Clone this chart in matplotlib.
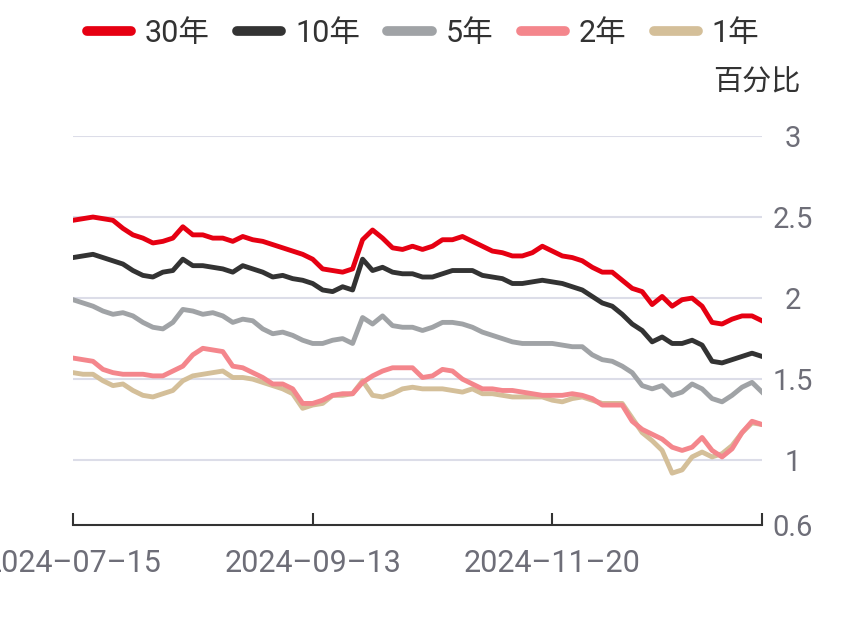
import matplotlib.pyplot as plt

plt.rcParams['font.family'] = ['Roboto', 'Noto Sans CJK SC', 'DejaVu Sans']

# readings roughly every 2 trading days, 2024-07-15 .. mid Jan 2025
tick_labels = ['2024–07–15', '2024–09–13', '2024–11–20']
tick_index = [0, 24, 48]

y30 = [2.48, 2.49, 2.50, 2.49, 2.48, 2.43, 2.39, 2.37, 2.34, 2.35,
       2.37, 2.44, 2.39, 2.39, 2.37, 2.37, 2.35, 2.38, 2.36, 2.35,
       2.33, 2.31, 2.29, 2.27, 2.24, 2.18, 2.17, 2.16, 2.18, 2.36,
       2.42, 2.37, 2.31, 2.30, 2.32, 2.30, 2.32, 2.36, 2.36, 2.38,
       2.35, 2.32, 2.29, 2.28, 2.26, 2.26, 2.28, 2.32, 2.29, 2.26,
       2.25, 2.23, 2.19, 2.16, 2.16, 2.11, 2.06, 2.04, 1.96, 2.01,
       1.95, 1.99, 2.00, 1.95, 1.85, 1.84, 1.87, 1.89, 1.89, 1.86]
y10 = [2.25, 2.26, 2.27, 2.25, 2.23, 2.21, 2.17, 2.14, 2.13, 2.16,
       2.17, 2.24, 2.20, 2.20, 2.19, 2.18, 2.16, 2.20, 2.18, 2.16,
       2.13, 2.14, 2.12, 2.11, 2.09, 2.05, 2.04, 2.07, 2.05, 2.24,
       2.17, 2.19, 2.16, 2.15, 2.15, 2.13, 2.13, 2.15, 2.17, 2.17,
       2.17, 2.14, 2.13, 2.12, 2.09, 2.09, 2.10, 2.11, 2.10, 2.09,
       2.07, 2.05, 2.01, 1.97, 1.95, 1.90, 1.84, 1.80, 1.73, 1.76,
       1.72, 1.72, 1.74, 1.71, 1.61, 1.60, 1.62, 1.64, 1.66, 1.64]
y5 = [1.99, 1.97, 1.95, 1.92, 1.90, 1.91, 1.89, 1.85, 1.82, 1.81,
      1.85, 1.93, 1.92, 1.90, 1.91, 1.89, 1.85, 1.87, 1.86, 1.81,
      1.78, 1.79, 1.77, 1.74, 1.72, 1.72, 1.74, 1.75, 1.72, 1.88,
      1.84, 1.89, 1.83, 1.82, 1.82, 1.80, 1.82, 1.85, 1.85, 1.84,
      1.82, 1.79, 1.77, 1.75, 1.73, 1.72, 1.72, 1.72, 1.72, 1.71,
      1.70, 1.70, 1.65, 1.62, 1.61, 1.58, 1.54, 1.46, 1.44, 1.46,
      1.40, 1.42, 1.47, 1.44, 1.38, 1.36, 1.40, 1.45, 1.48, 1.42]
y2 = [1.63, 1.62, 1.61, 1.56, 1.54, 1.53, 1.53, 1.53, 1.52, 1.52,
      1.55, 1.58, 1.65, 1.69, 1.68, 1.67, 1.58, 1.57, 1.54, 1.51,
      1.47, 1.47, 1.44, 1.35, 1.35, 1.37, 1.40, 1.41, 1.41, 1.48,
      1.52, 1.55, 1.57, 1.57, 1.57, 1.51, 1.52, 1.56, 1.55, 1.50,
      1.47, 1.44, 1.44, 1.43, 1.43, 1.42, 1.41, 1.40, 1.40, 1.40,
      1.41, 1.40, 1.38, 1.34, 1.34, 1.34, 1.24, 1.19, 1.16, 1.13,
      1.08, 1.06, 1.08, 1.14, 1.06, 1.02, 1.07, 1.17, 1.24, 1.22]
y1 = [1.54, 1.53, 1.53, 1.49, 1.46, 1.47, 1.43, 1.40, 1.39, 1.41,
      1.43, 1.49, 1.52, 1.53, 1.54, 1.55, 1.51, 1.51, 1.50, 1.48,
      1.46, 1.44, 1.41, 1.32, 1.34, 1.35, 1.40, 1.40, 1.41, 1.49,
      1.40, 1.39, 1.41, 1.44, 1.45, 1.44, 1.44, 1.44, 1.43, 1.42,
      1.44, 1.41, 1.41, 1.40, 1.39, 1.39, 1.39, 1.39, 1.37, 1.36,
      1.38, 1.39, 1.37, 1.35, 1.35, 1.35, 1.26, 1.17, 1.12, 1.06,
      0.92, 0.94, 1.02, 1.05, 1.02, 1.04, 1.09, 1.17, 1.23, 1.22]

series = [
    ('30年', y30, '#e60012'),
    ('10年', y10, '#333333'),
    ('5年', y5, '#a0a3a6'),
    ('2年', y2, '#f4868c'),
    ('1年', y1, '#d4bf99'),
]

fig = plt.figure(figsize=(8.46, 6.25), dpi=100)
ax = fig.add_axes([73 / 846, 1 - 525 / 625, 689 / 846, 389 / 625])

x = list(range(len(y30)))
# draw back to front so 30y sits on top
for name, vals, col in reversed(series):
    ax.plot(x, vals, color=col, lw=3.5, label=name, solid_joinstyle='round')

ax.set_xlim(0, len(x) - 1)
ax.set_ylim(0.6, 3)
ax.set_yticks([0.6, 1, 1.5, 2, 2.5, 3])
ax.set_yticklabels(['0.6', '1', '1.5', '2', '2.5', '3'])
ax.yaxis.tick_right()
ax.tick_params(axis='y', length=0, pad=22, labelsize=21, labelcolor='#6e6e78')
for lab in ax.get_yticklabels():
    lab.set_horizontalalignment('center')
for yv in [1, 1.5, 2, 2.5, 3]:
    ax.axhline(yv, color='#dcdde8', lw=1.5, zorder=0)

ax.set_xticks(tick_index + [len(x) - 1])
ax.set_xticklabels(tick_labels + [''])
ax.tick_params(axis='x', direction='in', length=9, width=1.5, color='#333333',
               pad=17, labelsize=22, labelcolor='#6e6e78')

for s in ['top', 'left', 'right']:
    ax.spines[s].set_visible(False)
ax.spines['bottom'].set_color('#333333')
ax.spines['bottom'].set_linewidth(1.5)

handles, labels = ax.get_legend_handles_labels()
leg = fig.legend(handles[::-1], labels[::-1], loc='center', bbox_to_anchor=(0.5, 1 - 33 / 625),
                 ncol=5, frameon=False, fontsize=22, handlelength=1.45, handletextpad=0.45,
                 columnspacing=0.9, labelcolor='#333333')
for h in leg.legend_handles:
    h.set_linewidth(7)
    h.set_solid_capstyle('round')

fig.text(800 / 846, 1 - 82 / 625, '百分比', ha='right', va='center', fontsize=21, color='#333333')

plt.savefig('out.png', dpi=100)
